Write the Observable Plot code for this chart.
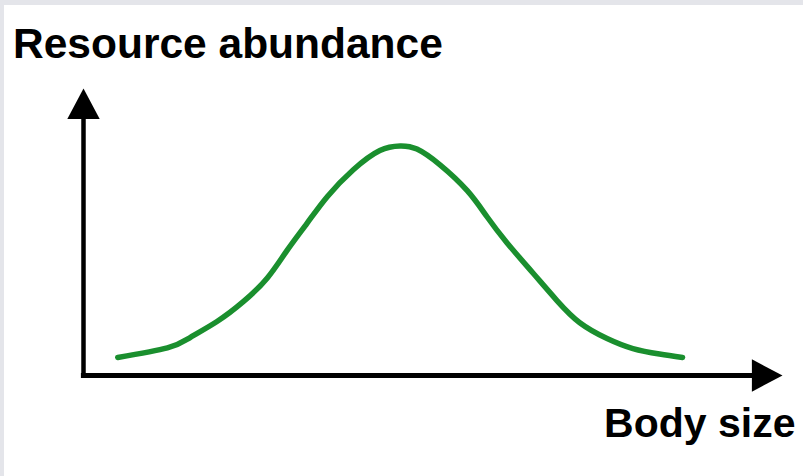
<!DOCTYPE html>
<html>
<head>
<meta charset="utf-8">
<script src="https://cdn.jsdelivr.net/npm/d3@7"></script>
<script src="https://cdn.jsdelivr.net/npm/@observablehq/plot@0.6"></script>
<style>
  html, body { margin: 0; padding: 0; background: #e4e5ea; width: 803px; height: 476px; overflow: hidden; }
  #panel { position: absolute; left: 4px; top: 5px; width: 799px; height: 471px; background: #ffffff; }
  #title {
    height: 64px; box-sizing: border-box; padding: 15px 0 0 9px;
    font: bold 42.5px "Liberation Sans", Arial, sans-serif; line-height: 48px; color: #000;
    white-space: nowrap;
  }
  #chart svg { display: block; }
</style>
</head>
<body>
<div id="panel">
  <div id="title">Resource abundance</div>
  <div id="chart"></div>
</div>
<script>
// Schematic resource distribution: abundance (0–100) against body size (0–100)
const titleText = "Resource abundance";
const xLabel = "Body size";
const bodySize  = [4.9, 12.0, 15.3, 19.1, 22.9, 26.3, 29.1, 32.0, 34.9, 38.6, 42.4, 45.3, 47.7, 51.0, 54.9, 57.7, 60.6, 64.3, 67.7, 71.0, 74.9, 78.6, 82.4, 85.7];
const abundance = [6.3, 9.6, 13.3, 18.8, 25.8, 34.0, 43.5, 53.1, 62.4, 71.7, 78.4, 80.0, 78.9, 73.4, 64.4, 55.4, 46.2, 35.7, 26.2, 18.4, 12.9, 9.4, 7.5, 6.3];

const curve = bodySize.map((x, i) => ({x, y: abundance[i]}));

// Axis ends carry filled arrowheads (tip at the axis end)
const axisEnds = [
  {x: 0, y: 100, rotate: 0},
  {x: 100, y: 0, rotate: 90}
];

// Filled arrowhead symbol whose tip sits at the anchor point, pointing up
const arrowHead = {
  draw(context, size) {
    const s = Math.sqrt(size / Math.PI);
    context.moveTo(0, 0);
    context.lineTo(-s * 1.06, s * 2);
    context.lineTo(s * 1.06, s * 2);
    context.closePath();
  }
};

const chart = Plot.plot({
  width: 799,
  height: 407,
  marginLeft: 79,
  marginRight: 21,
  marginTop: 19,
  marginBottom: 101,
  style: {background: "#ffffff", fontFamily: "'Liberation Sans', Arial, sans-serif"},
  x: {domain: [0, 100], axis: null},
  y: {domain: [0, 100], axis: null},
  marks: [
    Plot.ruleX([0], {y1: -1, y2: 90, stroke: "#000", strokeWidth: 4.5}),
    Plot.ruleY([0], {x1: -0.3, x2: 96, stroke: "#000", strokeWidth: 5}),
    Plot.dot(axisEnds, {x: "x", y: "y", rotate: "rotate", symbol: arrowHead, r: 15.3, fill: "#000", stroke: "none"}),
    Plot.line(curve, {x: "x", y: "y", stroke: "#1a8f2e", strokeWidth: 5.5, curve: "natural", strokeLinecap: "round", strokeLinejoin: "round"}),
    Plot.text([xLabel], {
      frameAnchor: "bottom-right", text: d => d, textAnchor: "end", lineAnchor: "bottom",
      dx: 13, dy: 61, fontSize: 41, fontWeight: "bold", fill: "#000"
    })
  ]
});
document.getElementById("chart").appendChild(chart);
</script>
</body>
</html>
